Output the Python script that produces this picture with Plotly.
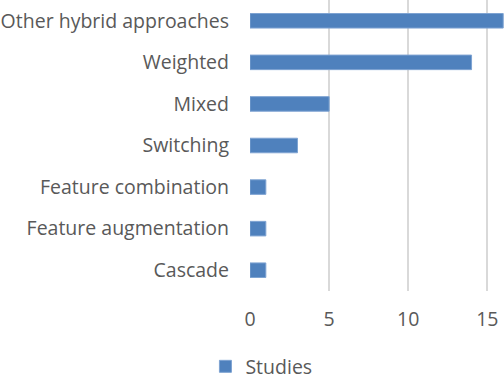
import plotly.graph_objects as go

categories = ["Other hybrid approaches", "Weighted", "Mixed", "Switching",
              "Feature combination", "Feature augmentation", "Cascade"]
studies = [16, 14, 5, 3, 1, 1, 1]
tick_vals = [0, 5, 10, 15]
series_name = "Studies"

fig = go.Figure()
fig.add_trace(go.Bar(
    y=categories, x=studies, orientation="h", name=series_name,
    marker=dict(color="#4f81bd", line=dict(color="#7ea3d2", width=1)),
    showlegend=True, hoverinfo="skip",
))

fig.update_layout(
    width=504, height=378,
    margin=dict(l=250, r=0, t=0, b=87, pad=0, autoexpand=False),
    paper_bgcolor="white", plot_bgcolor="white",
    bargap=0.65, hovermode=False,
    font=dict(family="Open Sans", size=19.5, color="#595959"),
    xaxis=dict(range=[0, 16.05], tickvals=tick_vals, showgrid=True,
               gridcolor="#d9d9d9", gridwidth=2, zeroline=False,
               showline=False, ticks="", ticklabelstandoff=14,
               tickfont=dict(size=19.5)),
    yaxis=dict(autorange="reversed", showgrid=False, zeroline=False,
               showline=False, ticks="", ticklabelstandoff=20,
               tickfont=dict(size=19.5)),
    legend=dict(orientation="h", x=0.045, xanchor="center", y=-0.26,
                yanchor="middle", yref="paper", font=dict(size=19.5),
                itemwidth=30),
)

fig.write_html("out.html", config={"displayModeBar": False},
               post_script="document.body.style.margin='0';document.body.style.overflow='hidden';")
